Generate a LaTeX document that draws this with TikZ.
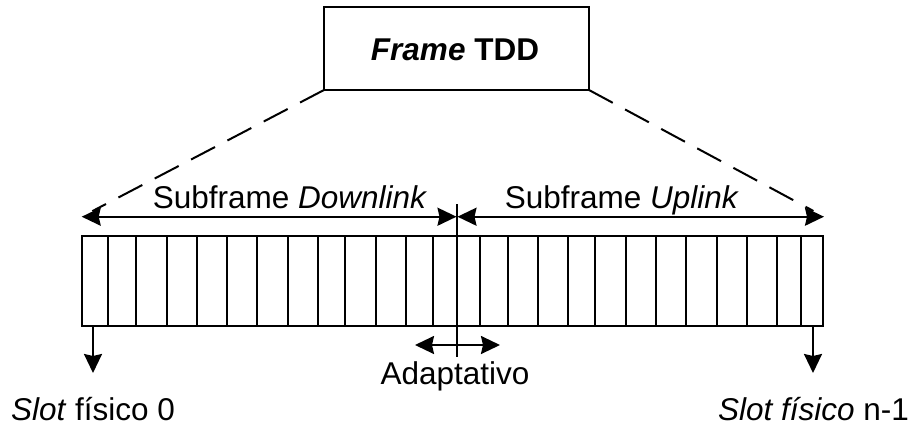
\documentclass[tikz,border=0pt]{standalone}
\usepackage{fontspec}
\setmainfont{Liberation Sans}
\usetikzlibrary{arrows.meta}
\begin{document}
\begin{tikzpicture}[x=1pt,y=-1pt,
  every node/.style={inner sep=0pt,outer sep=0pt},
  lbl/.style={font=\fontsize{31.5}{37}\selectfont,anchor=base},
  head/.style={Stealth[length=19pt,width=18pt,inset=2pt]},
  tip/.style={-{Stealth[length=19pt,width=18pt,inset=2pt]}},
  twotip/.style={{Stealth[length=19pt,width=18pt,inset=2pt]}-{Stealth[length=19pt,width=18pt,inset=2pt]}},
  line width=2pt]
\useasboundingbox (0,0) rectangle (914,432);

% frame box
\node[draw,minimum width=265pt,minimum height=83pt] (frame) at (456.5,48.5) {};
\node[lbl,font=\fontsize{31.5}{37}\selectfont\bfseries] (frametxt) at (455,60) {\textit{Frame} TDD};

% slot bar with its cells
\coordinate (barNW) at (81.7,235.7);
\coordinate (barSE) at (823.3,326);
\draw (barNW) rectangle (barSE);
\foreach \xx in {107.7,136,167,197,227,256.7,287.7,318.3,345.3,375.7,405.7,432.7,
                 480.3,507.7,538.3,568.3,594.7,625.7,655.7,685.7,716.7,746.7,776.7,800.7}
  \draw (\xx,235.7) -- (\xx,326);

% movable boundary between the subframes
\coordinate (midTop) at (456.5,204);
\coordinate (midBot) at (456.5,357);
\draw (midTop) -- (midBot);

% subframe extents
\coordinate (dlEnd) at (81.7,216.7);
\coordinate (ulEnd) at (824,216.7);
\coordinate (midL) at (456.5,216.7);
\coordinate (midR) at (457.5,216.7);
\draw[twotip] (dlEnd) -- (midL);
\draw[twotip] (midR) -- (ulEnd);
\node[lbl] (dltxt) at (290,208) {Subframe \textit{Downlink}};
\node[lbl] (ultxt) at (622,208) {Subframe \textit{Uplink}};

% dashed expansion lines from the frame box
\draw[dash pattern=on 27pt off 14pt,shorten >=12pt] (frame.south west) -- (dlEnd);
\draw[dash pattern=on 27pt off 14pt,shorten >=12pt] (frame.south east) -- (ulEnd);

% adaptive boundary arrow
\coordinate (adL) at (415,345);
\coordinate (adR) at (500,345);
\draw[twotip] (adL) -- (adR);
\node[lbl] (adtxt) at (455,384) {Adaptativo};

% first and last physical slots
\coordinate (s0top) at (93,326);
\coordinate (s0tip) at (93,373);
\coordinate (snTop) at (813,326);
\coordinate (snTip) at (813,373);
\draw[tip] (s0top) -- (s0tip);
\draw[tip] (snTop) -- (snTip);
\node[lbl] (s0txt) at (93,420.5) {\textit{Slot} físico 0};
\node[lbl] (sntxt) at (813.5,420.5) {\textit{Slot físico} n-1};
\end{tikzpicture}
\end{document}
